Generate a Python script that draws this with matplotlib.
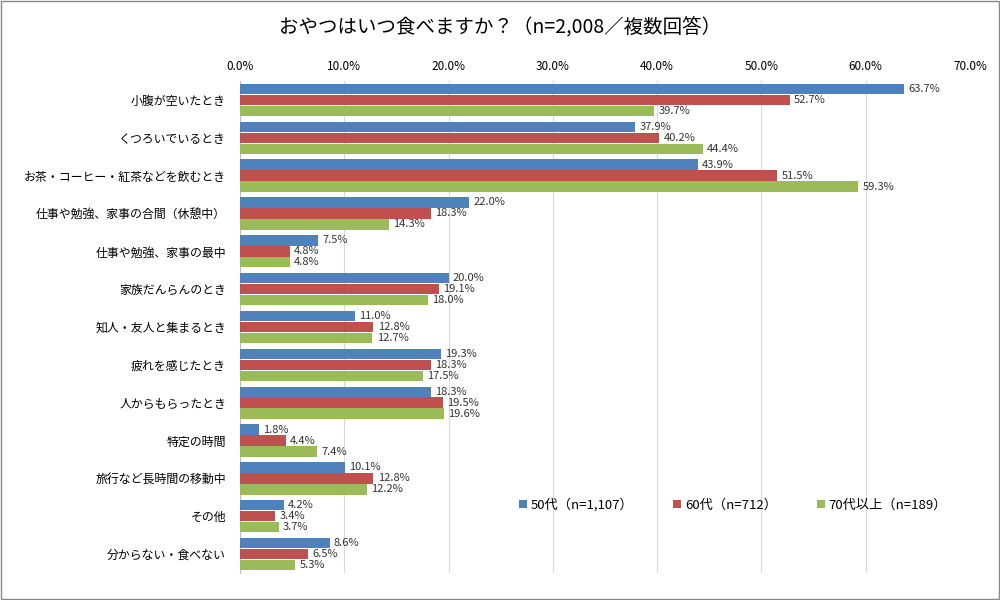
import matplotlib.pyplot as plt
import numpy as np

plt.rcParams['font.family'] = ['Noto Sans CJK JP', 'DejaVu Sans']

# 設問の選択肢
categories = [
    "小腹が空いたとき",
    "くつろいでいるとき",
    "お茶・コーヒー・紅茶などを飲むとき",
    "仕事や勉強、家事の合間（休憩中）",
    "仕事や勉強、家事の最中",
    "家族だんらんのとき",
    "知人・友人と集まるとき",
    "疲れを感じたとき",
    "人からもらったとき",
    "特定の時間",
    "旅行など長時間の移動中",
    "その他",
    "分からない・食べない",
]

# 年代別の割合（%）
age50 = [63.7, 37.9, 43.9, 22.0, 7.5, 20.0, 11.0, 19.3, 18.3, 1.8, 10.1, 4.2, 8.6]
age60 = [52.7, 40.2, 51.5, 18.3, 4.8, 19.1, 12.8, 18.3, 19.5, 4.4, 12.8, 3.4, 6.5]
age70 = [39.7, 44.4, 59.3, 14.3, 4.8, 18.0, 12.7, 17.5, 19.6, 7.4, 12.2, 3.7, 5.3]

series_labels = ["50代（n=1,107）", "60代（n=712）", "70代以上（n=189）"]
colors = ["#4F81BD", "#C0504D", "#9BBB59"]
xticks = np.arange(0, 71, 10)

fig = plt.figure(figsize=(10, 6), dpi=100)
ax = fig.add_axes([0.24, 0.045, 0.73, 0.82])

y = np.arange(len(categories))
h = 0.29
for i, (vals, lab, c) in enumerate(zip([age50, age60, age70], series_labels, colors)):
    pos = y + (i - 1) * h
    ax.barh(pos, vals, height=h * 0.95, color=c, label=lab, zorder=3)
    for p, v in zip(pos, vals):
        ax.text(v + 0.4, p, f"{v:.1f}%", va="center", ha="left", fontsize=8, color="#333333")

ax.set_ylim(len(categories) - 0.5, -0.5)
ax.set_xlim(0, 70)
ax.set_yticks(y)
ax.set_yticklabels(categories, fontsize=8.6)
ax.set_xticks(xticks)
ax.set_xticklabels([f"{t:.1f}%" for t in xticks], fontsize=8.5)
ax.xaxis.tick_top()
ax.tick_params(axis="y", length=0, pad=10)
ax.tick_params(axis="x", length=0, pad=6)
ax.grid(axis="x", color="#D9D9D9", linewidth=0.8, zorder=0)
for s in ["top", "right", "bottom"]:
    ax.spines[s].set_visible(False)
ax.spines["left"].set_color("#BFBFBF")

ax.legend(loc="lower right", bbox_to_anchor=(0.985, 0.1), ncol=3, frameon=False,
          fontsize=9.5, handlelength=0.6, handleheight=0.6, handletextpad=0.3,
          columnspacing=3)

fig.suptitle("おやつはいつ食べますか？（n=2,008／複数回答）", y=0.972, fontsize=14)

fig.patches.append(plt.Rectangle((0.001, 0.001), 0.998, 0.997, transform=fig.transFigure,
                                 fill=False, edgecolor="#888888", linewidth=1))

fig.savefig("out.png")
